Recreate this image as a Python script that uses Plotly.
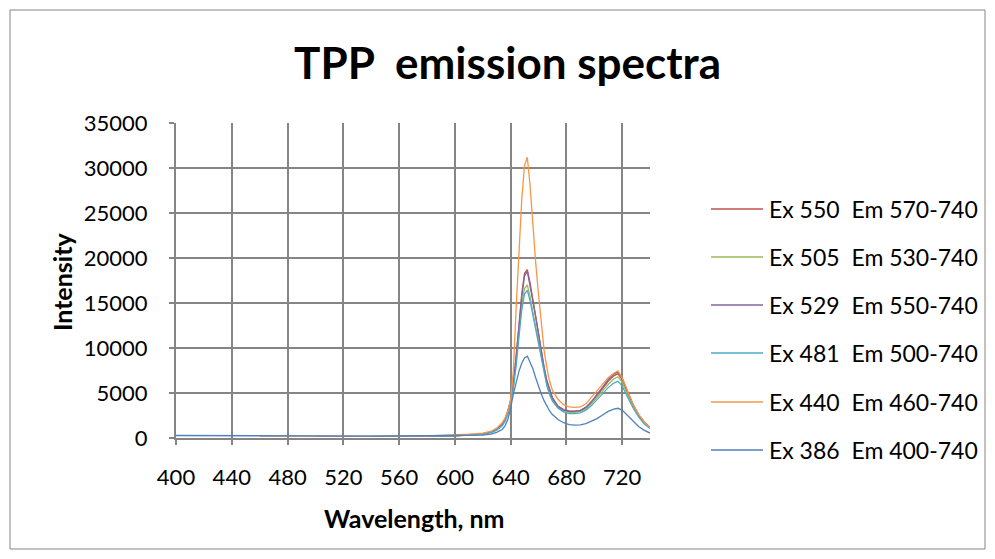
import plotly.graph_objects as go

# Emission wavelength grid (nm)
wavelength = [400, 420, 440, 460, 480, 500, 520, 540, 560, 580, 600, 610, 620,
              626, 630, 634, 636, 638, 640, 642, 644, 646, 648, 650, 652, 654,
              656, 658, 660, 662, 664, 666, 668, 670, 674, 678, 682, 686, 690,
              694, 698, 702, 706, 710, 714, 717, 720, 724, 728, 732, 736, 740]

series_names = ["Ex 550\u00a0 Em 570-740", "Ex 505\u00a0 Em 530-740",
                "Ex 529\u00a0 Em 550-740", "Ex 481\u00a0 Em 500-740",
                "Ex 440\u00a0 Em 460-740", "Ex 386\u00a0 Em 400-740"]

ex550 = [None] * 9 + [
    180, 250, 330, 450, 650, 950, 1500, 2100, 3000, 4200, 6200, 9000, 12500,
    16000, 18300, 18700, 17200, 15300, 13600, 11600, 9600, 7900, 6400, 5300,
    4500, 3550, 3150, 3000, 2980, 3080, 3400, 4000, 4700, 5500, 6300, 6900,
    7150, 6500, 5000, 3600, 2500, 1700, 1150]

ex505 = [None] * 7 + [
    170, 180, 200, 250, 320, 430, 620, 900, 1400, 1950, 2750, 3900, 5700, 8400,
    11700, 14800, 16600, 17000, 15700, 14000, 12400, 10600, 8800, 7300, 6000,
    5000, 4250, 3400, 3000, 2850, 2850, 2950, 3250, 3800, 4450, 5200, 5950,
    6550, 6800, 6200, 4800, 3450, 2400, 1620, 1100]

ex529 = [None] * 8 + [
    170, 190, 250, 330, 440, 640, 930, 1450, 2050, 2900, 4100, 6000, 8800,
    12300, 15700, 18000, 18500, 17000, 15200, 13500, 11500, 9500, 7800, 6300,
    5200, 4400, 3500, 3100, 2950, 2950, 3050, 3400, 4050, 4800, 5650, 6500,
    7100, 7350, 6700, 5150, 3700, 2550, 1750, 1150]

ex481 = [None] * 5 + [
    170, 160, 170, 180, 200, 250, 320, 420, 600, 880, 1350, 1850, 2600, 3700,
    5500, 8000, 11200, 14200, 16000, 16400, 15200, 13600, 12000, 10300, 8600,
    7100, 5800, 4800, 4100, 3300, 2900, 2700, 2700, 2800, 3100, 3600, 4200,
    4900, 5600, 6100, 6300, 5800, 4500, 3300, 2300, 1550, 1050]

ex440 = [None] * 3 + [
    200, 190, 180, 170, 180, 200, 230, 330, 420, 550, 750, 1100, 1700, 2200,
    3000, 4300, 7500, 14500, 21000, 26500, 30300, 31200, 28000, 23500, 19500,
    16000, 12500, 9800, 7800, 6300, 5300, 4300, 3700, 3450, 3400, 3450, 3800,
    4500, 5200, 5900, 6700, 7200, 7450, 6700, 5100, 3700, 2600, 1750, 1150]

ex386 = [
    280, 260, 270, 250, 240, 230, 220, 210, 220, 230, 260, 280, 320, 420, 620,
    950, 1350, 2050, 3300, 4900, 6300, 7400, 8300, 8900, 9100, 8400, 7700,
    6700, 5700, 4900, 4150, 3550, 3000, 2600, 2050, 1700, 1480, 1420, 1450,
    1600, 1850, 2150, 2550, 2950, 3200, 3300, 3100, 2450, 1850, 1250, 850, 550]

series_values = [ex550, ex505, ex529, ex481, ex440, ex386]
series_colors = ["#C0504D", "#9BBB59", "#8064A2", "#4BACC6", "#F79646", "#4F81BD"]

x_ticks = [400, 440, 480, 520, 560, 600, 640, 680, 720]
y_ticks = [0, 5000, 10000, 15000, 20000, 25000, 30000, 35000]

FONT = "Lato"
GRID = "#858585"

fig = go.Figure()
for name, vals, col in zip(series_names, series_values, series_colors):
    fig.add_trace(go.Scatter(x=wavelength, y=vals, mode="lines", name=name,
                             line=dict(color=col, width=1.3),
                             connectgaps=False, showlegend=False))

# plot area spans 176..650 px horizontally, 123..438 px vertically
L, R, T, B = 176, 650, 123, 438
W, H = R - L, B - T


def px(x):
    return (x - L) / W


def py(y):
    return (B - y) / H


shapes = [dict(type="rect", xref="paper", yref="paper",
               x0=px(10), x1=px(985), y0=py(549), y1=py(10),
               line=dict(color=GRID, width=1), layer="below")]
annotations = []

# legend keys
legend_y = [209, 257, 305, 353, 402, 450]
for name, col, ly in zip(series_names, series_colors, legend_y):
    shapes.append(dict(type="line", xref="paper", yref="paper",
                       x0=px(711), x1=px(763), y0=py(ly), y1=py(ly),
                       line=dict(color=col, width=1.3)))
    annotations.append(dict(text=name, xref="paper", yref="paper",
                            x=px(767), y=py(ly), xanchor="left",
                            yanchor="middle", showarrow=False,
                            font=dict(family=FONT, size=23, color="#000")))

annotations.append(dict(text="<b>TPP\u00a0 emission spectra</b>", xref="paper",
                        yref="paper", x=px(507), y=py(62), xanchor="center",
                        yanchor="middle", showarrow=False,
                        font=dict(family=FONT, size=44, color="#000")))
annotations.append(dict(text="<b>Intensity</b>", xref="paper", yref="paper",
                        x=px(62), y=py(282), xanchor="center", yanchor="middle",
                        textangle=-90, showarrow=False,
                        font=dict(family=FONT, size=25, color="#000")))
annotations.append(dict(text="<b>Wavelength, nm</b>", xref="paper", yref="paper",
                        x=px(414), y=py(518), xanchor="center", yanchor="middle",
                        showarrow=False,
                        font=dict(family=FONT, size=25, color="#000")))

fig.update_layout(
    width=995, height=559,
    margin=dict(l=L, r=995 - R, t=T, b=559 - B, pad=0),
    paper_bgcolor="white", plot_bgcolor="white",
    showlegend=False,
    shapes=shapes, annotations=annotations,
    font=dict(family=FONT, size=22, color="#000"),
)
fig.update_xaxes(range=[400, 740], tickvals=x_ticks, ticktext=[str(v) for v in x_ticks],
                 showgrid=True, gridcolor=GRID, gridwidth=2,
                 showline=True, linecolor=GRID, linewidth=2,
                 ticks="outside", ticklen=5, tickcolor=GRID, tickwidth=2,
                 ticklabelstandoff=14, zeroline=False,
                 tickfont=dict(family=FONT, size=22, color="#000"))
fig.update_yaxes(range=[0, 35000], tickvals=y_ticks, ticktext=[str(v) for v in y_ticks],
                 showgrid=True, gridcolor=GRID, gridwidth=2,
                 showline=True, linecolor=GRID, linewidth=2,
                 ticks="outside", ticklen=5, tickcolor=GRID, tickwidth=2,
                 ticklabelstandoff=17, zeroline=False,
                 tickfont=dict(family=FONT, size=22, color="#000"))

fig.write_html("out.html")
